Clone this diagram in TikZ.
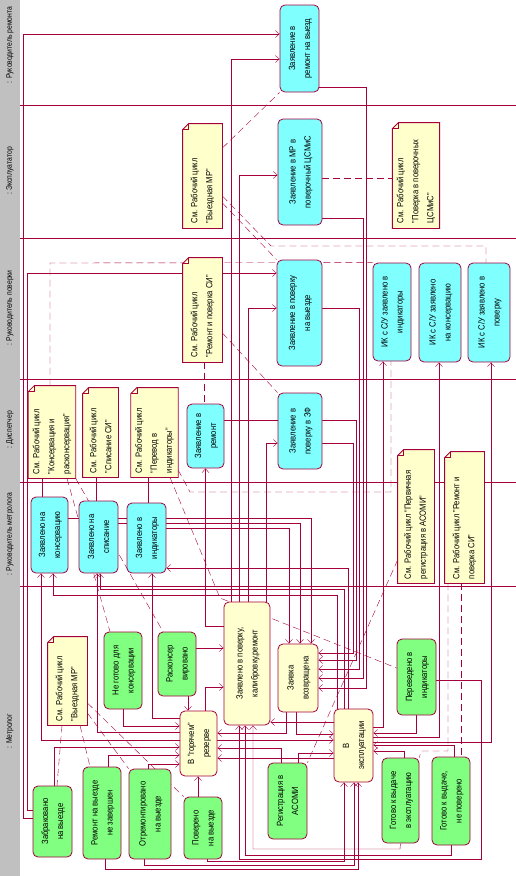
\documentclass[tikz,border=0pt]{standalone}
\usepackage{fontspec}
\setmainfont{Liberation Sans}[FakeStretch=0.85]
\usepackage{graphicx}
\usetikzlibrary{arrows.meta,calc,backgrounds}

\definecolor{umlline}{RGB}{165,0,60}
\definecolor{statecyan}{RGB}{128,255,255}
\definecolor{stategreen}{RGB}{128,255,128}
\definecolor{stateyellow}{RGB}{255,255,208}
\definecolor{noteyellow}{RGB}{255,255,204}
\definecolor{lanegray}{RGB}{192,192,192}

\newcommand{\rt}[1]{\rotatebox{90}{\begin{tabular}{@{}c@{}}#1\end{tabular}}}
\newcommand{\nt}[2]{\rotatebox{90}{\begin{minipage}{#1pt}\raggedright #2\end{minipage}}}
\newcommand{\notebg}[1]{%
  \filldraw[notefill] (#1.south west) -- (#1.south east) -- (#1.north east)
    -- ($(#1.north west)+(6pt,0pt)$) -- ($(#1.north west)+(0pt,-6pt)$) -- cycle;
  \draw[notefold] ($(#1.north west)+(6pt,0pt)$) -- ($(#1.north west)+(6pt,-6pt)$)
    -- ($(#1.north west)+(0pt,-6pt)$);}

\begin{document}
\begin{tikzpicture}[x=1pt, y=-1pt, line width=0.8pt, font=\fontsize{9}{15}\selectfont]
\tikzset{
  stcyan/.style={draw=umlline, fill=statecyan, rounded corners=5pt, inner sep=1pt},
  stgreen/.style={draw=umlline, fill=stategreen, rounded corners=5pt, inner sep=1pt},
  styellow/.style={draw=umlline, fill=stateyellow, rounded corners=5pt, inner sep=1pt},
  notebox/.style={inner sep=4pt},
  notefill/.style={draw=umlline, fill=noteyellow, line width=0.8pt},
  notefold/.style={draw=umlline, line width=0.6pt},
  lanelabel/.style={inner sep=0pt, font=\fontsize{8}{10}\selectfont},
  laneline/.style={draw=umlline},
  flow/.style={draw=umlline, -{Straight Barb[length=4pt,width=7pt]}},
  notelink/.style={draw=umlline, dash pattern=on 7pt off 4pt},
  anchorline/.style={draw=umlline}
}
\useasboundingbox (0,0) rectangle (516,876);

% swimlane titles
\node[lanelabel] (lnRem) at (10,45) {\rotatebox{90}{: Руководитель ремонта}};
\node[lanelabel] (lnExpl) at (10,171) {\rotatebox{90}{: Эксплуататор}};
\node[lanelabel] (lnPov) at (10,308) {\rotatebox{90}{: Руководитель поверки}};
\node[lanelabel] (lnDisp) at (10,430) {\rotatebox{90}{: Диспетчер}};
\node[lanelabel] (lnRukMet) at (10,534) {\rotatebox{90}{: Руководитель метролога}};
\node[lanelabel] (lnMet) at (10,731) {\rotatebox{90}{: Метролог}};

% requests
\node[stcyan, minimum width=39, minimum height=87] (zRemVyezd) at (299.5,48.5) {\rt{Заявление в\\ремонт на выезд}};
\node[stcyan, minimum width=44, minimum height=106] (zMRCsm) at (300,172) {\rt{Заявление в МР в\\поверочный ЦСМиС}};
\node[stcyan, minimum width=45, minimum height=106] (zPovVyezd) at (299.5,313) {\rt{Заявление в поверку\\на выезде}};
\node[stcyan, minimum width=38, minimum height=98] (ikInd) at (392,312) {\rt{ИК с С/У заявлено в\\индикаторы}};
\node[stcyan, minimum width=42, minimum height=99] (ikKons) at (440,312.5) {\rt{ИК с С/У заявлено\\на консервацию}};
\node[stcyan, minimum width=42, minimum height=99] (ikPov) at (489,312.5) {\rt{ИК с С/У заявлено в\\поверку}};
\node[stcyan, minimum width=37, minimum height=64] (zRem) at (205.5,436) {\rt{Заявление в\\ремонт}};
\node[stcyan, minimum width=44, minimum height=76] (zPovZF) at (300,431) {\rt{Заявление в\\поверку в ЗФ}};
\node[stcyan, minimum width=37, minimum height=76] (kons) at (49.5,535) {\rt{Заявлено на\\консервацию}};
\node[stcyan, minimum width=39, minimum height=72] (spis) at (98.5,537) {\rt{Заявлено на\\списание}};
\node[stcyan, minimum width=39, minimum height=70] (ind) at (146.5,538) {\rt{Заявлено в\\индикаторы}};

% notes
\node[notebox, minimum width=39, minimum height=104] (nVyezd) at (202.5,176) {\nt{94}{См. Рабочий цикл\\"Выездная МР"}};
\node[notebox, minimum width=46, minimum height=105] (nPovCsm) at (416,175.5) {\nt{95}{См. Рабочий цикл\\"Поверка в поверочных\\ЦСМиС"}};
\node[notebox, minimum width=39, minimum height=104] (nRemPov) at (202.5,310) {\nt{94}{См. Рабочий цикл\\"Ремонт и поверка СИ"}};
\node[notebox, minimum width=46, minimum height=92] (nKons) at (52,432) {\nt{84}{См. Рабочий цикл\\"Консервация и\\расконсервация"}};
\node[notebox, minimum width=35, minimum height=89] (nSpis) at (100.5,432.5) {\nt{81}{См. Рабочий цикл\\"Списание СИ"}};
\node[notebox, minimum width=45, minimum height=89] (nPerevod) at (154.5,432.5) {\nt{81}{См. Рабочий цикл\\"Перевод в\\индикаторы"}};
\node[notebox, minimum width=36, minimum height=133] (nAsomi) at (416,516.5) {\nt{125}{См. Рабочий цикл "Первичная\\регистрация в АСОМИ"}};
\node[notebox, minimum width=39, minimum height=131] (nRemPov2) at (464.5,517.5) {\nt{123}{См. Рабочий цикл "Ремонт и\\поверка СИ"}};
\node[notebox, minimum width=39, minimum height=88] (nVyezd2) at (67.5,681) {\nt{80}{См. Рабочий цикл\\"Выездная МР"}};

% metrolog states
\node[stgreen, minimum width=38, minimum height=77] (neGot) at (123,670.5) {\rt{Не готово для\\консервации}};
\node[stgreen, minimum width=38, minimum height=64] (raskons) at (177,664) {\rt{Расконсер\\вировано}};
\node[styellow, minimum width=46, minimum height=123] (zayavPov) at (247,663.5) {\rt{Заявлено в поверку,\\калибровку,ремонт}};
\node[styellow, minimum width=37, minimum height=65] (rezerv) at (198.5,743.5) {\rt{В "горячем"\\резерве}};
\node[stgreen, minimum width=39, minimum height=71] (zabrak) at (52.5,821.5) {\rt{Забраковано\\на выезде}};
\node[stgreen, minimum width=38, minimum height=92] (remNeZav) at (102,813) {\rt{Ремонт на выезде\\не завершен}};
\node[stgreen, minimum width=42, minimum height=90] (otrem) at (150,814) {\rt{Отремонтировано\\на выезде}};
\node[stgreen, minimum width=38, minimum height=62] (pover) at (203,828) {\rt{Поверено\\на выезде}};
\node[styellow, minimum width=40, minimum height=68] (vozvr) at (298,678) {\rt{Заявка\\возвращена}};
\node[styellow, minimum width=39, minimum height=73] (expl) at (353.5,745.5) {\rt{В\\эксплуатации}};
\node[stgreen, minimum width=39, minimum height=76] (asomi) at (287.5,801) {\rt{Регистрация в\\АСОМИ}};
\node[stgreen, minimum width=39, minimum height=76] (perInd) at (416.5,677) {\rt{Переведено в\\индикаторы}};
\node[stgreen, minimum width=37, minimum height=85] (gotExpl) at (400.5,800.5) {\rt{Готово к выдаче\\в эксплуатацию}};
\node[stgreen, minimum width=38, minimum height=88] (gotNePov) at (451,801) {\rt{Готово к выдаче,\\не поверено}};

\begin{scope}[on background layer]
\fill[lanegray] (0,0) rectangle (20,876);
\foreach \ly in {105,238,379,482,586} \draw[laneline] (20,\ly) -- (516,\ly);

% transitions to requests
\draw[flow] (zabrak.west |- 0,818) -- (23,818) |- (zRemVyezd.west |- 0,34);
\draw[flow] (zabrak.west |- 0,810) -- (27,810) |- (zPovVyezd.west |- 0,273);
\draw[flow] (zayavPov.north -| 231,0) |- (zRemVyezd.west |- 0,59);
\draw[flow] (zayavPov.north -| 239,0) |- (zMRCsm.west |- 0,175);
\draw[flow] (zayavPov.north -| 248,0) |- (zPovVyezd.west |- 0,308);
\draw[flow] (zayavPov.north -| 266,0) |- (zPovZF.west |- 0,443);
\draw[flow] (zayavPov.west |- 0,626) -| (zRem.south);
\draw[flow] (expl.east |- 0,727) -| (ikInd.south -| 383,0);
\draw[flow] (expl.east |- 0,737) -| (ikKons.south -| 439,0);
\draw[flow] (expl.east |- 0,742) -| (ikPov.south -| 491,0);
\draw[flow] (expl.north -| 337,0) |- (53,595) -- (kons.south -| 53,0);
\draw[flow] (expl.north -| 344,0) |- (100,589) -- (spis.south -| 100,0);
\draw[flow] (expl.north -| 348,0) |- (ind.east |- 0,568);
\draw[flow] (rezerv.west |- 0,740) -| (kons.south -| 41,0);
\draw[flow] (rezerv.west |- 0,732) -| (spis.south -| 97,0);
\draw[flow] (rezerv.west |- 0,718) -| (ind.south -| 152,0);

% requests returned
\draw[flow] (kons.east |- 0,518) -| (vozvr.north -| 311,0);
\draw[flow] (spis.east |- 0,523) -| (vozvr.north -| 300,0);
\draw[flow] (ind.east |- 0,528) -| (vozvr.north -| 289,0);
\draw[flow] (zRemVyezd.east |- 0,87) -- (366,87) |- (vozvr.east |- 0,688);
\draw[flow] (zMRCsm.east |- 0,218) -- (363,218) |- (vozvr.east |- 0,678);
\draw[flow] (zPovVyezd.east |- 0,308) -- (359,308) |- (vozvr.east |- 0,669);
\draw[flow] (zRem.east |- 0,420) -- (356,420) |- (vozvr.east |- 0,660);
\draw[flow] (zPovZF.east |- 0,443) -- (353,443) |- (vozvr.east |- 0,653);

% metrolog transitions
\draw[flow] (perInd.south -| 416,0) |- (expl.east |- 0,733);
\draw[flow] (gotExpl.north -| 404,0) |- (expl.east |- 0,751);
\draw[flow] (gotNePov.north -| 454,0) |- (expl.east |- 0,745);
\draw[flow] (vozvr.south -| 296,0) |- (expl.west |- 0,734);
\draw[flow] (vozvr.south -| 286,0) |- (rezerv.east |- 0,733);
\draw[flow] (asomi.north -| 298,0) |- (expl.west |- 0,753);
\draw[flow] (asomi.north -| 281,0) |- (rezerv.east |- 0,748);
\draw[flow] (rezerv.east |- 0,740) -- (expl.west |- 0,740);
\draw[flow] (expl.west |- 0,758) -- (rezerv.east |- 0,758);
\draw[flow] (expl.west |- 0,722) -- (zayavPov.east |- 0,722);
\draw[flow] (raskons.east |- 0,648) -- (zayavPov.west |- 0,648);
\draw[flow] (rezerv.north -| 205,0) |- (zayavPov.west |- 0,687);
\draw[flow] (neGot.south) |- (rezerv.west |- 0,726);
\draw[flow] (raskons.south -| 188,0) -- (rezerv.north -| 188,0);
\draw[flow] (pover.north -| 198,0) -- (rezerv.south -| 198,0);
\draw[flow] (otrem.north -| 148,0) |- (rezerv.west |- 0,764);
\draw[flow] (remNeZav.north -| 108,0) |- (rezerv.west |- 0,755);
\draw[flow] (zabrak.north -| 54,0) |- (rezerv.west |- 0,747);
\draw[flow] (remNeZav.south -| 105,0) -- (105,869) -| (expl.south -| 358,0);
\draw[flow] (otrem.south -| 144,0) -- (144,865) -| (expl.south -| 354,0);
\draw[flow] (pover.south -| 207,0) -- (207,861) -| (expl.south -| 344,0);
\draw[flow] (gotExpl.south) -- (400,849) -| (zayavPov.south -| 253,0);
\draw[flow] (gotNePov.south) -- (451,855) -| (zayavPov.south -| 245,0);
\draw[flow] (perInd.east |- 0,680) -| (481,859) -| (zayavPov.south -| 239,0);

% note anchors
\draw[notelink] (nVyezd.east |- 0,148) -- (zRemVyezd.south west);
\draw[notelink] (nVyezd.east |- 0,203) -- (zPovVyezd.north west);
\draw[notelink] (nVyezd.east |- 0,196) -- (271,246) -- (486,246) -- (ikPov.north -| 486,0);
\draw[notelink] (zMRCsm.east |- 0,178) -- (nPovCsm.west |- 0,178);
\draw[notelink] (nRemPov.south -| 204,0) -- (zRem.north -| 204,0);
\draw[notelink] (nRemPov.east |- 0,333) -- (zPovZF.north west);
\draw[notelink] (nKons.north -| 50,0) -- (50,263) -- (ikInd.north west);
\draw[anchorline] (nKons.south -| 42,0) -- (kons.north -| 42,0);
\draw[anchorline] (nSpis.south -| 96,0) -- (spis.north -| 96,0);
\draw[anchorline] (nPerevod.south -| 148,0) -- (ind.north -| 148,0);
\draw[notelink] (nKons.south -| 67,0) -- (neGot.north -| 110,0);
\draw[notelink] (nKons.south east) -- (raskons.north -| 163,0);
\draw[notelink] (nPerevod.south -| 170,0) -- (220,598) -- (perInd.west |- 0,668);
\draw[notelink] (nPerevod.east |- 0,470) -- (190,492) -- (391,492) -- (ikInd.south -| 391,0);
\draw[notelink] (nAsomi.west |- 0,560) -- (asomi.north east);
\draw[notelink] (nRemPov2.south -| 448,0) |- (421,751) -- (gotExpl.north east);
\draw[notelink] (nRemPov2.south -| 461,0) -- (gotNePov.north -| 461,0);
\draw[notelink] (nVyezd2.south -| 62,0) -- (zabrak.north -| 57,0);
\draw[notelink] (nVyezd2.south -| 80,0) -- (remNeZav.north -| 90,0);
\draw[notelink] (nVyezd2.east |- 0,713) -- (otrem.north west);
\draw[notelink] (nVyezd2.east |- 0,703) -- (pover.north west);

\foreach \n in {nVyezd,nPovCsm,nRemPov,nKons,nSpis,nPerevod,nAsomi,nRemPov2,nVyezd2} \notebg{\n};
\end{scope}
\end{tikzpicture}
\end{document}
